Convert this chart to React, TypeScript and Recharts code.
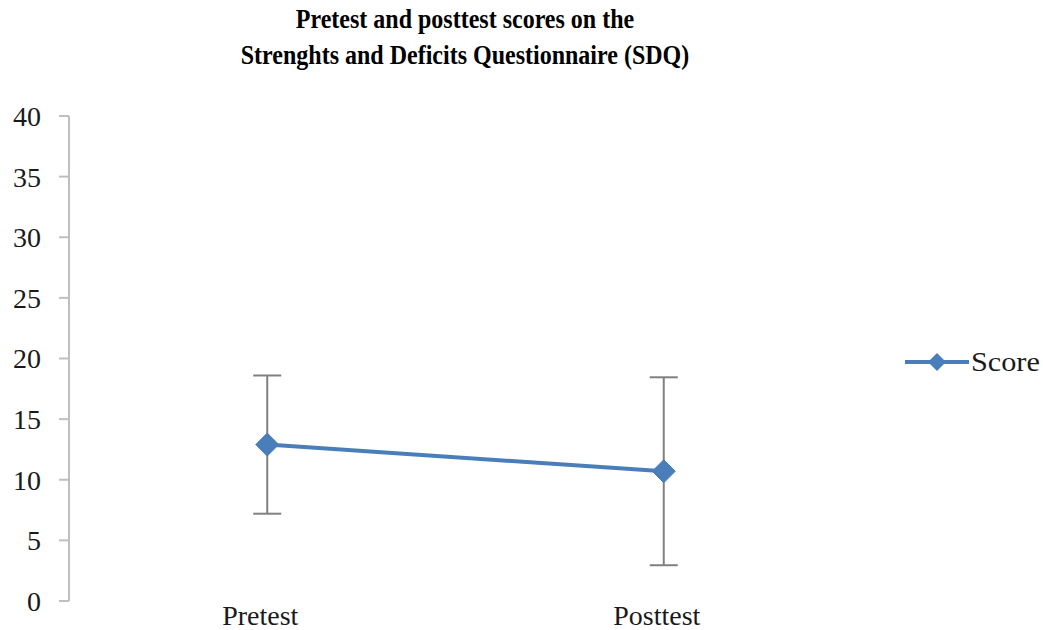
import React from 'react';
import { LineChart, Line, XAxis, YAxis, ErrorBar, Legend } from 'recharts';

const categories = ['Pretest', 'Posttest'];
const scores = [12.9, 10.7];
const errors = [5.7, 7.75];
const yTicks = [0, 5, 10, 15, 20, 25, 30, 35, 40];
const seriesName = 'Score';
const titleLines = ['Pretest and posttest scores on the', 'Strenghts and Deficits Questionnaire (SDQ)'];

const data = categories.map((c, i) => ({ name: c, score: scores[i], err: errors[i] }));

const BLUE = '#4a7ebb';
const FONT = '"Liberation Serif", "Times New Roman", serif';

const Diamond = (props: any) => {
  const { cx, cy } = props;
  if (cx == null || cy == null) return null;
  const r = 11.5;
  return (
    <polygon
      points={`${cx},${cy - r} ${cx + r},${cy} ${cx},${cy + r} ${cx - r},${cy}`}
      fill={BLUE}
      stroke={BLUE}
      strokeWidth={1}
    />
  );
};

const LegendContent = (props: any) => {
  const { payload } = props;
  return (
    <div style={{ display: 'flex', flexDirection: 'column' }}>
      {(payload || []).map((p: any) => (
        <div key={p.value} style={{ display: 'flex', alignItems: 'center', fontFamily: FONT, fontSize: 28, color: '#1a1a1a' }}>
          <svg width={64} height={24} style={{ marginRight: 2 }}>
            <line x1={0} y1={12} x2={64} y2={12} stroke={p.color} strokeWidth={4} />
            <polygon points="32,3 41,12 32,21 23,12" fill={p.color} />
          </svg>
          <span style={{ display: 'inline-block', transform: 'scaleX(1.08)', transformOrigin: 'left center' }}>{p.value}</span>
        </div>
      ))}
    </div>
  );
};

export default function App() {
  return (
    <div style={{ position: 'absolute', left: 0, top: 0, width: 1043, height: 630, background: '#fff' }}>
      <div
        style={{
          position: 'absolute',
          left: 0,
          top: 2,
          width: 930,
          textAlign: 'center',
          fontFamily: FONT,
          fontWeight: 'bold',
          fontSize: 24,
          lineHeight: '32px',
          color: '#000',
          zIndex: 2,
          transform: 'scaleY(1.1)',
          transformOrigin: 'top center',
        }}
      >
        {titleLines.map((t) => (
          <div key={t}>{t}</div>
        ))}
      </div>
      <LineChart width={1043} height={630} data={data} margin={{ top: 116, right: 181, bottom: 0, left: 0 }}>
        <XAxis
          dataKey="name"
          scale="band"
          axisLine={false}
          tickLine={false}
          tickSize={0}
          tickMargin={4}
          height={29}
          tick={{ fontFamily: FONT, fontSize: 28, fill: '#1a1a1a', dx: -7 }}
        />
        <YAxis
          domain={[0, 40]}
          ticks={yTicks}
          interval={0}
          width={69}
          axisLine={{ stroke: '#bfbfbf', strokeWidth: 2 }}
          tickLine={{ stroke: '#bfbfbf', strokeWidth: 2 }}
          tickSize={10}
          tickMargin={18}
          tick={{ fontFamily: FONT, fontSize: 28, fill: '#1a1a1a' }}
        />
        <Legend
          layout="horizontal"
          verticalAlign="middle"
          align="center"
          content={<LegendContent />}
          wrapperStyle={{ left: 905, top: 346, width: 140, height: 26 }}
        />
        <Line
          type="linear"
          dataKey="score"
          name={seriesName}
          stroke={BLUE}
          strokeWidth={4}
          dot={<Diamond />}
          activeDot={false}
          isAnimationActive={false}
        >
          <ErrorBar dataKey="err" width={14} stroke="#808080" strokeWidth={2} direction="y" />
        </Line>
      </LineChart>
    </div>
  );
}
